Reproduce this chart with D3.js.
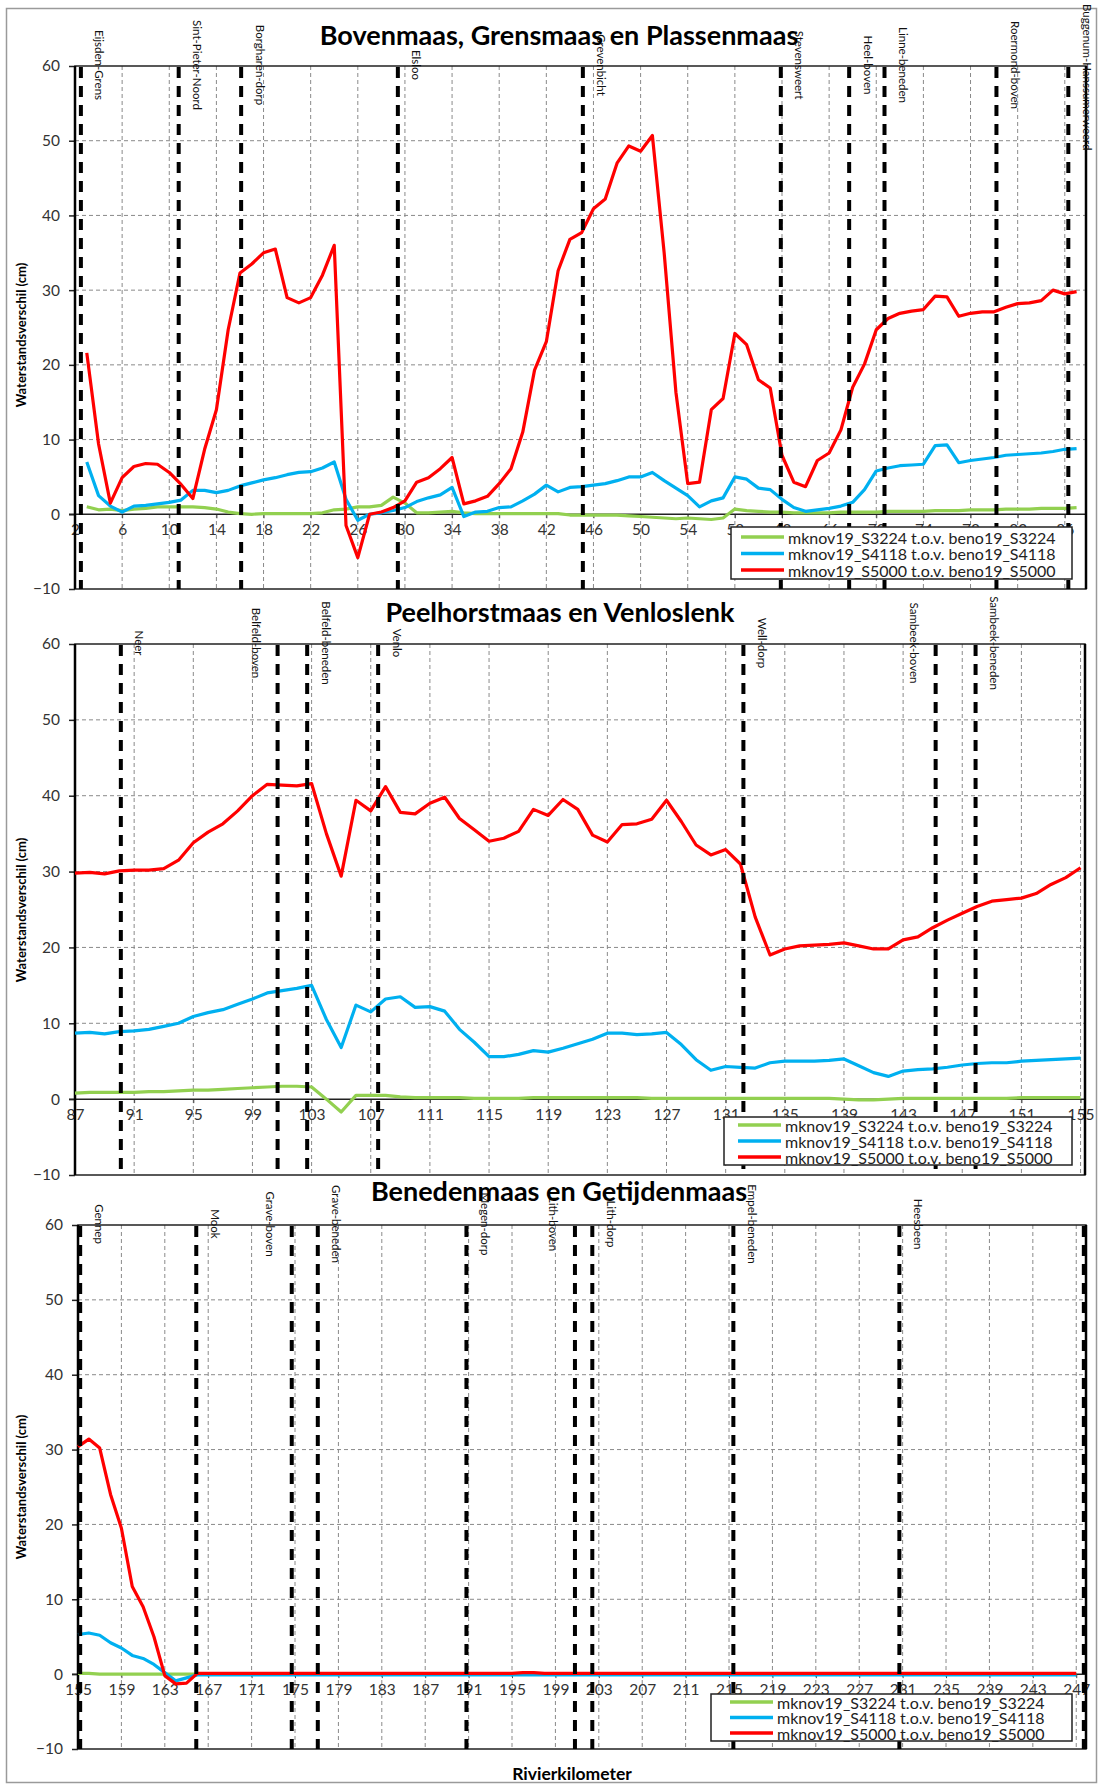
<!DOCTYPE html>
<html><head><meta charset="utf-8">
<script src="https://cdn.jsdelivr.net/npm/d3@7"></script>
<style>
body{margin:0;background:#fff}
svg{display:block}
text{font-family:Lato,"Open Sans",sans-serif}
</style>
</head><body>
<svg id="c" width="1099" height="1784"></svg>
<script>
// ---------------- DATA ----------------
const seriesNames = ["mknov19_S3224 t.o.v. beno19_S3224","mknov19_S4118 t.o.v. beno19_S4118","mknov19_S5000 t.o.v. beno19_S5000"];
const panelTitles = ["Bovenmaas, Grensmaas en Plassenmaas","Peelhorstmaas en Venloslenk","Benedenmaas en Getijdenmaas"];
const yTicks = [-10,0,10,20,30,40,50,60];

// Panel 1
const kmTop = [3,4,5,6,7,8,9,10,11,12,13,14,15,16,17,18,19,20,21,22,23,24,25,26,27,28,29,30,31,32,33,34,35,36,37,38,39,40,41,42,43,44,45,46,47,48,49,50,51,52,53,54,55,56,57,58,59,60,61,62,63,64,65,66,67,68,69,70,71,72,73,74,75,76,77,78,79,80,81,82,83,84,85,86,87];
const s3224Top = [1.0,0.6,0.7,0.5,0.7,0.8,1.0,1.0,1.0,1.0,0.9,0.7,0.3,0.1,0.0,0.1,0.1,0.1,0.1,0.1,0.2,0.6,0.7,1.0,1.0,1.2,2.3,1.5,0.2,0.2,0.3,0.4,0.2,0.1,0.1,0.1,0.1,0.1,0.1,0.1,0.1,-0.1,-0.1,-0.1,-0.1,-0.1,-0.2,-0.3,-0.4,-0.5,-0.6,-0.5,-0.6,-0.7,-0.5,0.7,0.5,0.4,0.3,0.3,0.2,0.2,0.2,0.2,0.3,0.3,0.3,0.3,0.4,0.4,0.4,0.4,0.5,0.5,0.5,0.6,0.6,0.6,0.7,0.7,0.7,0.8,0.8,0.8,0.9];
const s4118Top = [7.0,2.5,1.1,0.3,1.1,1.2,1.4,1.6,1.9,3.2,3.2,2.9,3.2,3.8,4.2,4.6,4.9,5.3,5.6,5.7,6.2,7.0,2.0,-0.8,0.0,0.2,0.5,0.9,1.7,2.2,2.6,3.6,-0.3,0.3,0.4,0.9,1.0,1.8,2.7,3.9,3.0,3.6,3.7,3.9,4.1,4.5,5.0,5.0,5.6,4.5,3.5,2.5,1.0,1.8,2.2,5.0,4.7,3.5,3.3,2.0,0.9,0.4,0.6,0.8,1.1,1.6,3.3,5.8,6.2,6.5,6.6,6.7,9.2,9.3,6.9,7.2,7.4,7.6,7.9,8.0,8.1,8.2,8.4,8.7,8.8];
const s5000Top = [21.6,9.4,1.5,4.9,6.4,6.8,6.7,5.6,4.0,2.1,8.7,14.0,24.7,32.3,33.5,35.0,35.5,29.0,28.3,29.0,32.0,36.0,-1.5,-5.8,0.0,0.3,0.9,1.8,4.3,4.9,6.1,7.6,1.4,1.8,2.4,4.1,6.1,11.0,19.3,23.1,32.6,36.8,37.7,40.9,42.2,47.0,49.3,48.6,50.7,35.0,16.3,4.1,4.3,14.0,15.5,24.2,22.7,18.0,16.9,7.9,4.3,3.7,7.2,8.2,11.3,17.0,20.1,24.7,26.2,26.9,27.2,27.4,29.2,29.1,26.5,26.9,27.1,27.1,27.7,28.2,28.3,28.6,30.0,29.5,29.8];
const xTicksTop = [2,6,10,14,18,22,26,30,34,38,42,46,50,54,58,62,66,70,74,78,82,86];
const stationNamesTop = ["Eijsden-Grens","Sint-Pieter-Noord","Borgharen-dorp","Elsloo","Grevenbicht","Stevensweert","Heel-boven","Linne-beneden","Roermond-boven","Buggenum-Hanssumerweerd"];
const stationKmTop = [2.5,10.8,16.1,29.4,45.1,61.9,67.7,70.7,80.2,86.3];

// Panel 2
const kmMid = [87,88,89,90,91,92,93,94,95,96,97,98,99,100,101,102,103,104,105,106,107,108,109,110,111,112,113,114,115,116,117,118,119,120,121,122,123,124,125,126,127,128,129,130,131,132,133,134,135,136,137,138,139,140,141,142,143,144,145,146,147,148,149,150,151,152,153,154,155];
const s3224Mid = [0.8,0.9,0.9,0.9,0.9,1.0,1.0,1.1,1.2,1.2,1.3,1.4,1.5,1.6,1.7,1.7,1.6,0.0,-1.7,0.5,0.5,0.5,0.3,0.2,0.2,0.2,0.2,0.1,0.1,0.1,0.1,0.2,0.2,0.2,0.2,0.2,0.2,0.2,0.2,0.1,0.1,0.1,0.1,0.1,0.1,0.1,0.1,0.1,0.1,0.1,0.1,0.1,0.0,-0.1,-0.1,0.0,0.1,0.1,0.1,0.1,0.1,0.1,0.1,0.1,0.2,0.2,0.2,0.2,0.2];
const s4118Mid = [8.7,8.8,8.6,8.9,9.0,9.2,9.6,10.0,10.9,11.4,11.8,12.5,13.2,14.0,14.3,14.6,15.0,10.5,6.8,12.4,11.5,13.2,13.5,12.1,12.2,11.6,9.2,7.5,5.6,5.6,5.9,6.4,6.2,6.7,7.3,7.9,8.7,8.7,8.5,8.6,8.8,7.2,5.2,3.8,4.3,4.2,4.1,4.8,5.0,5.0,5.0,5.1,5.3,4.4,3.5,3.0,3.7,3.9,4.0,4.2,4.5,4.7,4.8,4.8,5.0,5.1,5.2,5.3,5.4];
const s5000Mid = [29.8,29.9,29.7,30.1,30.2,30.2,30.4,31.5,33.8,35.2,36.3,38.0,40.0,41.5,41.4,41.3,41.6,35.0,29.4,39.4,38.0,41.2,37.8,37.6,39.0,39.8,37.0,35.5,34.0,34.4,35.3,38.2,37.4,39.5,38.2,34.8,33.9,36.2,36.3,36.9,39.4,36.6,33.5,32.2,32.9,31.0,24.0,19.0,19.8,20.2,20.3,20.4,20.6,20.2,19.8,19.8,21.0,21.4,22.6,23.6,24.5,25.4,26.1,26.3,26.5,27.1,28.3,29.2,30.5];
const xTicksMid = [87,91,95,99,103,107,111,115,119,123,127,131,135,139,143,147,151,155];
const stationNamesMid = ["Neer","Belfeld-boven","Belfeld-beneden","Venlo","Well-dorp","Sambeek-boven","Sambeek-beneden"];
const stationKmMid = [90.1,100.7,102.7,107.5,132.2,145.2,147.9];

// Panel 3
const kmBot = [155,156,157,158,159,160,161,162,163,164,165,166,167,168,169,170,171,172,173,174,175,176,177,178,179,180,181,182,183,184,185,186,187,188,189,190,191,192,193,194,195,196,197,198,199,200,201,202,203,204,205,206,207,208,209,210,211,212,213,214,215,216,217,218,219,220,221,222,223,224,225,226,227,228,229,230,231,232,233,234,235,236,237,238,239,240,241,242,243,244,245,246,247];
const s3224Bot = [0.1,0.1,0.0,0.0,0.0,0.0,0.0,0.0,0.0,0.0,0.0,0.0,0.0,0.0,0.0,0.0,0.0,0.0,0.0,0.0,0.0,0.0,0.0,0.0,0.0,0.0,0.0,0.0,0.0,0.0,0.0,0.0,0.0,0.0,0.0,0.0,0.0,0.0,0.0,0.0,0.0,0.0,0.0,0.0,0.0,0.0,0.0,0.0,0.0,0.0,0.0,0.0,0.0,0.0,0.0,0.0,0.0,0.0,0.0,0.0,0.0,0.0,0.0,0.0,0.0,0.0,0.0,0.0,0.0,0.0,0.0,0.0,0.0,0.0,0.0,0.0,0.0,0.0,0.0,0.0,0.0,0.0,0.0,0.0,0.0,0.0,0.0,0.0,0.0,0.0,0.0,0.0,0.0];
const s4118Bot = [5.3,5.5,5.2,4.2,3.5,2.5,2.1,1.3,0.2,-0.9,-0.5,-0.1,-0.1,-0.1,-0.1,-0.1,-0.1,-0.1,-0.1,-0.1,-0.1,-0.1,-0.1,-0.1,-0.1,-0.1,-0.1,-0.1,-0.1,-0.1,-0.1,-0.1,-0.1,-0.1,-0.1,-0.1,-0.1,-0.1,-0.1,-0.1,-0.1,-0.1,-0.1,-0.1,-0.1,-0.1,-0.1,-0.1,-0.1,-0.1,-0.1,-0.1,-0.1,-0.1,-0.1,-0.1,-0.1,-0.1,-0.1,-0.1,-0.1,-0.1,-0.1,-0.1,-0.1,-0.1,-0.1,-0.1,-0.1,-0.1,-0.1,-0.1,-0.1,-0.1,-0.1,-0.1,-0.1,-0.1,-0.1,-0.1,-0.1,-0.1,-0.1,-0.1,-0.1,-0.1,-0.1,-0.1,-0.1,-0.1,-0.1,-0.1,-0.1];
const s5000Bot = [30.4,31.4,30.2,24.0,19.5,11.7,9.0,5.0,-0.2,-1.3,-1.2,0.1,0.1,0.1,0.1,0.1,0.1,0.1,0.1,0.1,0.1,0.1,0.1,0.1,0.1,0.1,0.1,0.1,0.1,0.1,0.1,0.1,0.1,0.1,0.1,0.1,0.1,0.1,0.1,0.1,0.1,0.2,0.2,0.1,0.1,0.1,0.1,0.1,0.1,0.1,0.1,0.1,0.1,0.1,0.1,0.1,0.1,0.1,0.1,0.1,0.1,0.1,0.1,0.1,0.1,0.1,0.1,0.1,0.1,0.1,0.1,0.1,0.1,0.1,0.1,0.1,0.1,0.1,0.1,0.1,0.1,0.1,0.1,0.1,0.1,0.1,0.1,0.1,0.1,0.1,0.1,0.1,0.1];
const xTicksBot = [155,159,163,167,171,175,179,183,187,191,195,199,203,207,211,215,219,223,227,231,235,239,243,247];
const stationNamesBot = ["Gennep","Mook","Grave-boven","Grave-beneden","Megen-dorp","Lith-boven","Lith-dorp","Empel-beneden","Heesbeen",""];
const stationKmBot = [155.2,165.9,174.7,177.1,190.8,200.8,202.4,215.4,230.7,247.7];

const labelsOnLeft = ["Belfeld-boven","Sambeek-boven","Grave-boven","Lith-boven"];

// ---------------- STYLE / LAYOUT ----------------
const colors = ["#92D050","#00B0F0","#FF0000"];
const panels = [
  {title:panelTitles[0], km:kmTop, series:[s3224Top,s4118Top,s5000Top], ticks:xTicksTop, stations:stationNamesTop, stKm:stationKmTop,
   xDomain:[2,87.8], left:75, right:1086, top:66, bottom:589, titleX:559, titleY:34, yTitleY:335,
   legend:{x:731,y:527,w:341,h:52,lx:741,tx:788,r0:10,gap:16.5}},
  {title:panelTitles[1], km:kmMid, series:[s3224Mid,s4118Mid,s5000Mid], ticks:xTicksMid, stations:stationNamesMid, stKm:stationKmMid,
   xDomain:[87,155.3], left:75, right:1085, top:644, bottom:1175, titleX:560, titleY:611, yTitleY:910,
   legend:{x:724,y:1117,w:348,h:48,lx:738,tx:785,r0:8,gap:16}},
  {title:panelTitles[2], km:kmBot, series:[s3224Bot,s4118Bot,s5000Bot], ticks:xTicksBot, stations:stationNamesBot, stKm:stationKmBot,
   xDomain:[155,247.9], left:78, right:1086, top:1225, bottom:1749, titleX:559, titleY:1190, yTitleY:1487,
   legend:{x:711,y:1694,w:361,h:47,lx:730,tx:777,r0:8,gap:15.5}}
];

const svg = d3.select("#c");
svg.append("rect").attr("x",6.5).attr("y",8.5).attr("width",1090).attr("height",1774)
  .attr("fill","#fff").attr("stroke","#9a9a9a").attr("stroke-width",1.5);

panels.forEach(p => {
  const x = d3.scaleLinear().domain(p.xDomain).range([p.left, p.right]);
  const y = d3.scaleLinear().domain([-10,60]).range([p.bottom, p.top]);
  const g = svg.append("g");

  // horizontal grid
  g.selectAll(null).data([10,20,30,40,50]).join("line")
    .attr("x1",p.left).attr("x2",p.right).attr("y1",d=>y(d)).attr("y2",d=>y(d))
    .attr("stroke","#8a8a8a").attr("stroke-width",1).attr("stroke-dasharray","4,3");
  // vertical grid
  g.selectAll(null).data(p.ticks.filter(t=>x(t)>p.left+2)).join("line")
    .attr("x1",d=>x(d)).attr("x2",d=>x(d)).attr("y1",p.top).attr("y2",p.bottom)
    .attr("stroke","#8a8a8a").attr("stroke-width",1).attr("stroke-dasharray","4,3");

  // y axis
  const ya = g.append("g").attr("transform",`translate(${p.left},0)`)
    .call(d3.axisLeft(y).tickValues(yTicks).tickSize(6).tickPadding(9).tickFormat(d3.format("d")));
  ya.select(".domain").remove();
  ya.selectAll("line").attr("stroke","#222").attr("stroke-width",1.5);
  ya.selectAll("text").attr("font-size",15.5).attr("fill","#333").style("font-family","Lato,'Open Sans',sans-serif");

  // x axis on zero line
  const xa = g.append("g").attr("transform",`translate(0,${y(0)})`)
    .call(d3.axisBottom(x).tickValues(p.ticks).tickSize(4).tickPadding(6).tickFormat(d3.format("d")));
  xa.select(".domain").remove();
  xa.selectAll("line").attr("stroke","#444");
  xa.selectAll("text").attr("font-size",15.5).attr("fill","#333").style("font-family","Lato,'Open Sans',sans-serif");

  // zero line
  g.append("line").attr("x1",p.left-6).attr("x2",p.right).attr("y1",y(0)).attr("y2",y(0))
    .attr("stroke","#222").attr("stroke-width",1.5);

  // plot border
  g.append("rect").attr("x",p.left).attr("y",p.top).attr("width",p.right-p.left).attr("height",p.bottom-p.top)
    .attr("fill","none").attr("stroke","#222").attr("stroke-width",1.5);
  g.append("line").attr("x1",p.left).attr("x2",p.left).attr("y1",p.top).attr("y2",p.bottom)
    .attr("stroke","#000").attr("stroke-width",2.5);
  g.append("line").attr("x1",p.right).attr("x2",p.right).attr("y1",p.top).attr("y2",p.bottom)
    .attr("stroke","#000").attr("stroke-width",2.5);

  // series
  const line = d3.line().x((d,i)=>x(p.km[i])).y(d=>y(d));
  p.series.forEach((s,k)=>{
    g.append("path").datum(s).attr("d",line).attr("fill","none")
      .attr("stroke",colors[k]).attr("stroke-width",3.2).attr("stroke-linejoin","round");
  });

  // station lines
  g.selectAll(null).data(p.stKm).join("line")
    .attr("x1",d=>x(d)).attr("x2",d=>x(d)).attr("y1",p.top+1).attr("y2",p.bottom)
    .attr("stroke","#000").attr("stroke-width",4).attr("stroke-dasharray","11,8");

  // station labels
  p.stations.forEach((name,i)=>{
    if(!name) return;
    const left = labelsOnLeft.includes(name);
    const sx = x(p.stKm[i]) + (left ? -21 : 19);
    const t = g.append("text").text(name).attr("font-size",11.5).attr("fill","#111")
      .attr("text-anchor","middle").attr("dominant-baseline","central");
    const len = t.node().getComputedTextLength();
    let cy = y(60) - 1;
    if (cy - len/2 < 4) cy = 4 + len/2;
    t.attr("transform",`translate(${sx},${cy}) rotate(90)`);
  });

  // legend
  const L = p.legend;
  const lg = g.append("g");
  lg.append("rect").attr("x",L.x).attr("y",L.y).attr("width",L.w).attr("height",L.h)
    .attr("fill","#fff").attr("stroke","#222").attr("stroke-width",1.5);
  seriesNames.forEach((n,k)=>{
    const ry = L.y + L.r0 + k*L.gap;
    lg.append("line").attr("x1",L.lx).attr("x2",L.lx+43).attr("y1",ry).attr("y2",ry)
      .attr("stroke",colors[k]).attr("stroke-width",3.5);
    lg.append("text").attr("x",L.tx).attr("y",ry).attr("dominant-baseline","central")
      .attr("font-size",16).attr("fill","#222").text(n);
  });

  // title
  g.append("text").attr("x",p.titleX).attr("y",p.titleY).attr("text-anchor","middle")
    .attr("dominant-baseline","central").attr("font-size",27).attr("font-weight","bold").attr("fill","#000").text(p.title);

  // y axis title
  g.append("text").attr("transform",`translate(21,${p.yTitleY}) rotate(-90)`)
    .attr("text-anchor","middle").attr("dominant-baseline","central")
    .attr("font-size",13).attr("font-weight","bold").attr("fill","#000").text("Waterstandsverschil (cm)");
});

svg.append("text").attr("x",572).attr("y",1773).attr("text-anchor","middle").attr("dominant-baseline","central")
  .attr("font-size",17.5).attr("font-weight","bold").attr("fill","#000").text("Rivierkilometer");
</script>
</body></html>
